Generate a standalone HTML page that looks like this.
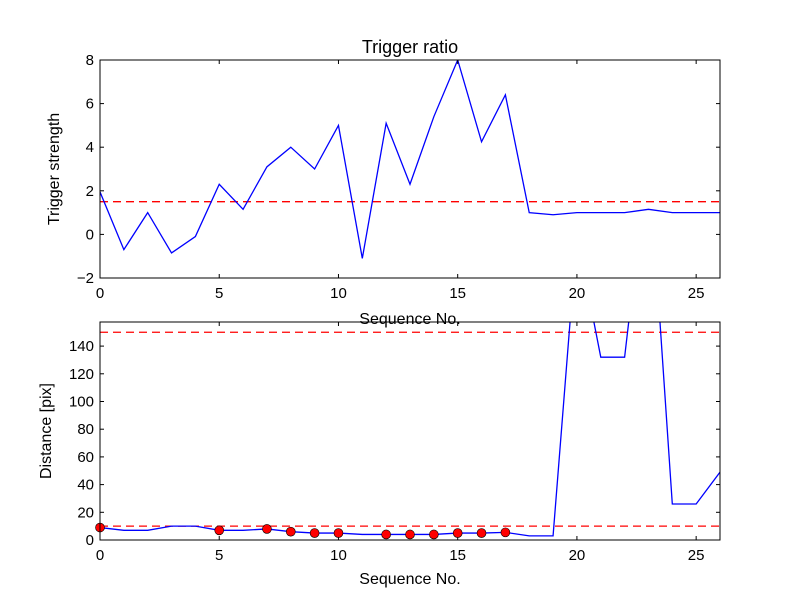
<!DOCTYPE html>
<html><head><meta charset="utf-8"><style>
body{margin:0;background:#fff}
svg{display:block;font-family:"Liberation Sans","DejaVu Sans",sans-serif}
</style></head><body>
<svg id="c" width="800" height="600" viewBox="0 0 800 600">
<rect width="800" height="600" fill="#fff"/>
<g id="top"></g>
<g id="bot"></g>
</svg>
<script>
const xs = [0,1,2,3,4,5,6,7,8,9,10,11,12,13,14,15,16,17,18,19,20,21,22,23,24,25,26];
const trigger = [1.95,-0.7,1.0,-0.85,-0.1,2.3,1.15,3.1,4.0,3.0,5.0,-1.1,5.1,2.3,5.4,8.0,4.25,6.4,1.0,0.9,1.0,1.0,1.0,1.15,1.0,1.0,1.0];
const triggerThreshold = 1.5;
const distance = [9,7,7,10,10,7,7,8,6,5,5,4,4,4,4,5,5,5.5,3,3,220,132,132,280,26,26,49];
const markerIdx = [0,5,7,8,9,10,12,13,14,15,16,17];
const distThresholds = [10,150];
const xTicks = [0,5,10,15,20,25];
const topYTicks = [-2,0,2,4,6,8];
const botYTicks = [0,20,40,60,80,100,120,140];
const NS="http://www.w3.org/2000/svg";
function mk(p,t,a){const e=document.createElementNS(NS,t);for(const k in a)e.setAttribute(k,a[k]);p.appendChild(e);return e;}
function fmt(v){return v<0?'\u2212'+Math.abs(v):String(v);}
function panel(g,id,top,bottom,ymin,ymax,yticks){
  const L=100,R=720;
  const sx=v=>L+(v-0)/(26-0)*(R-L);
  const sy=v=>bottom-(v-ymin)/(ymax-ymin)*(bottom-top);
  const cp=mk(g,'clipPath',{id:id});mk(cp,'rect',{x:L,y:top,width:R-L,height:bottom-top});
  const plot=mk(g,'g',{'clip-path':'url(#'+id+')'});
  for(const t of xTicks){
    const x=sx(t);
    mk(g,'line',{x1:x,x2:x,y1:bottom,y2:bottom-4,stroke:'#000'});
    mk(g,'line',{x1:x,x2:x,y1:top,y2:top+4,stroke:'#000'});
    const tx=mk(g,'text',{x:x,y:bottom+20,'text-anchor':'middle','font-size':15});
    tx.textContent=fmt(t);
    
    
  }
  for(const t of yticks){
    const y=sy(t);
    mk(g,'line',{x1:L,x2:L+4,y1:y,y2:y,stroke:'#000'});
    mk(g,'line',{x1:R,x2:R-4,y1:y,y2:y,stroke:'#000'});
    const tx=mk(g,'text',{x:L-6,y:y+5,'text-anchor':'end','font-size':15});
    tx.textContent=fmt(t);
    
    
  }
  return {sx,sy,plot,L,R,top,bottom};
}
const T=panel(document.getElementById('top'),'ct',60,278,-2,8,topYTicks);
let l=mk(T.plot,'line',{x1:T.L,x2:T.R,y1:T.sy(triggerThreshold),y2:T.sy(triggerThreshold),stroke:'#f00','stroke-width':1.3,'stroke-dasharray':'8,5'});


let p=mk(T.plot,'polyline',{points:xs.map((x,i)=>T.sx(x)+','+T.sy(trigger[i])).join(' '),fill:'none',stroke:'#00f','stroke-width':1.3});


const tg=document.getElementById('top');
mk(tg,'rect',{x:100,y:60,width:620,height:218,fill:'none',stroke:'#000'});
let t1=mk(tg,'text',{x:410,y:53,'text-anchor':'middle','font-size':18});t1.textContent='Trigger ratio';


let t2=mk(tg,'text',{x:410,y:324,'text-anchor':'middle','font-size':16});t2.textContent='Sequence No.';


let t3=mk(tg,'text',{x:59,y:169,'text-anchor':'middle','font-size':16,transform:'rotate(-90 59 169)'});t3.textContent='Trigger strength';



const B=panel(document.getElementById('bot'),'cb',322,540,0,157.4,botYTicks);
for(const d of distThresholds){
  const dl=mk(B.plot,'line',{x1:B.L,x2:B.R,y1:B.sy(d),y2:B.sy(d),stroke:'#f00','stroke-width':1.3,'stroke-dasharray':'8,5'});
  
  
}
let bp=mk(B.plot,'polyline',{points:xs.map((x,i)=>B.sx(x)+','+B.sy(distance[i])).join(' '),fill:'none',stroke:'#00f','stroke-width':1.3});


for(const i of markerIdx){
  const c=mk(document.getElementById('bot'),'circle',{cx:B.sx(xs[i]),cy:B.sy(distance[i]),r:4.5,fill:'#f00',stroke:'#000','stroke-width':0.6});
  
  
}
const bg=document.getElementById('bot');
mk(bg,'rect',{x:100,y:322,width:620,height:218,fill:'none',stroke:'#000'});
let t4=mk(bg,'text',{x:410,y:584,'text-anchor':'middle','font-size':16});t4.textContent='Sequence No.';


let t5=mk(bg,'text',{x:51,y:431,'text-anchor':'middle','font-size':16,transform:'rotate(-90 51 431)'});t5.textContent='Distance [pix]';


</script>
</body></html>
